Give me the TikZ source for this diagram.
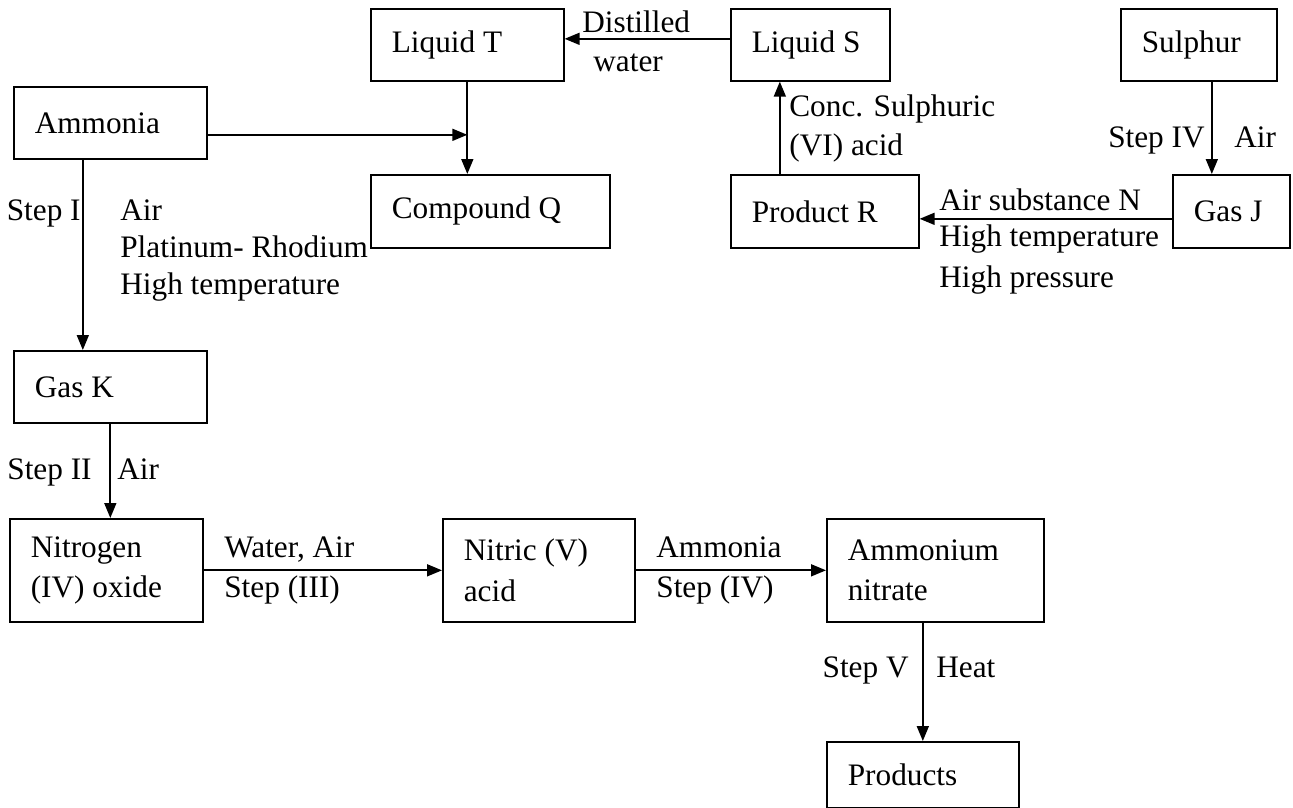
\documentclass[tikz,border=0pt]{standalone}
\usepackage{fontspec}
\setmainfont{Liberation Serif}
\usetikzlibrary{arrows.meta,positioning}

\begin{document}
\begin{tikzpicture}[
  x=0.02cm, y=-0.02cm,
  box/.style={draw, line width=0.95pt, anchor=north west, align=flush left, inner xsep=0.42cm, inner ysep=0pt, font=\fontsize{17.8}{22.8}\selectfont},
  lbl/.style={anchor=base west, inner sep=0pt, font=\fontsize{17.8}{22.8}\selectfont},
  arr/.style={-{Triangle[length=0.3cm,width=0.24cm]}, line width=0.95pt}
]
  \useasboundingbox (0,0) rectangle (1293,807);

  % boxes
  \node[box, text width=3.02cm, minimum height=1.44cm] (liqT) at (370,8) {Liquid T};
  \node[box, text width=2.34cm, minimum height=1.44cm] (liqS) at (730,8) {Liquid S};
  \node[box, text width=2.28cm, minimum height=1.44cm] (sulphur) at (1120,8) {Sulphur};
  \node[box, text width=3.02cm, minimum height=1.44cm] (ammonia) at (13,86) {Ammonia};
  \node[box, text width=3.94cm, minimum height=1.46cm] (compQ) at (370,174) {Compound Q};
  \node[box, text width=2.92cm, minimum height=1.46cm] (prodR) at (730,174) {Product R};
  \node[box, text width=1.50cm, minimum height=1.46cm] (gasJ) at (1172,174) {Gas J};
  \node[box, text width=3.02cm, minimum height=1.44cm] (gasK) at (13,350) {Gas K};
  \node[box, text width=3.02cm, minimum height=2.06cm] (nitO) at (9,518) {Nitrogen\\(IV) oxide};
  \node[box, text width=3.00cm, minimum height=2.06cm] (nitA) at (442,518) {Nitric (V)\\acid};
  \node[box, text width=3.50cm, minimum height=2.06cm] (ammN) at (826,518) {Ammonium\\nitrate};
  \node[box, text width=3.00cm, minimum height=1.32cm] (prod) at (826,741) {Products};

  % arrows
  \draw[arr] ([yshift=0.12cm]liqS.west) -- ([yshift=0.12cm]liqT.east);
  \draw[arr] (liqT.south) -- (liqT.south |- compQ.north);
  \draw[arr] ([yshift=-0.24cm]ammonia.east) -- ([yshift=-0.24cm]ammonia.east -| liqT.south);
  \draw[arr] ([xshift=-0.9cm]prodR.north) -- ([xshift=-0.9cm]prodR.north |- liqS.south);
  \draw[arr] ([xshift=0.26cm]sulphur.south) -- ([xshift=0.26cm]sulphur.south |- gasJ.north);
  \draw[arr] ([yshift=-0.15cm]gasJ.west) -- ([yshift=-0.15cm]gasJ.west -| prodR.east);
  \draw[arr] ([xshift=-0.55cm]ammonia.south) -- ([xshift=-0.55cm]ammonia.south |- gasK.north);
  \draw[arr] (gasK.south) -- (gasK.south |- nitO.north);
  \draw[arr] (nitO.east) -- (nitA.west);
  \draw[arr] (nitA.east) -- (ammN.west);
  \draw[arr] (prod.north |- ammN.south) -- (prod.north);

  % labels
  \node[lbl] (lDist) at (582,33) {Distilled};
  \node[lbl] (lWater) at (593,72) {water};
  \node[lbl] (lConc) at (789,117) {Conc. Sulphuric};
  \node[lbl] (lVI) at (789,156) {(VI) acid};
  \node[lbl, anchor=base east] (lStepIVs) at (1205,148) {Step IV};
  \node[lbl] (lAirS) at (1234,148) {Air};
  \node[lbl] (lAirN) at (939,211) {Air substance N};
  \node[lbl] (lHtR) at (939,247) {High temperature};
  \node[lbl] (lHpR) at (939,287) {High pressure};
  \node[lbl, anchor=base east] (lStepI) at (81,221) {Step I};
  \node[lbl] (lAirI) at (120,221) {Air};
  \node[lbl] (lPt) at (120,257) {Platinum- Rhodium};
  \node[lbl] (lHtI) at (120,295) {High temperature};
  \node[lbl, anchor=base east] (lStepII) at (92,479) {Step II};
  \node[lbl] (lAirII) at (117,479) {Air};
  \node[lbl] (lWA) at (224,557) {Water, Air};
  \node[lbl] (lStepIII) at (224,597) {Step (III)};
  \node[lbl] (lAmm) at (656,557) {Ammonia};
  \node[lbl] (lStepIV) at (656,597) {Step (IV)};
  \node[lbl, anchor=base east] (lStepV) at (909,677) {Step V};
  \node[lbl] (lHeat) at (936,677) {Heat};
\end{tikzpicture}
\end{document}
